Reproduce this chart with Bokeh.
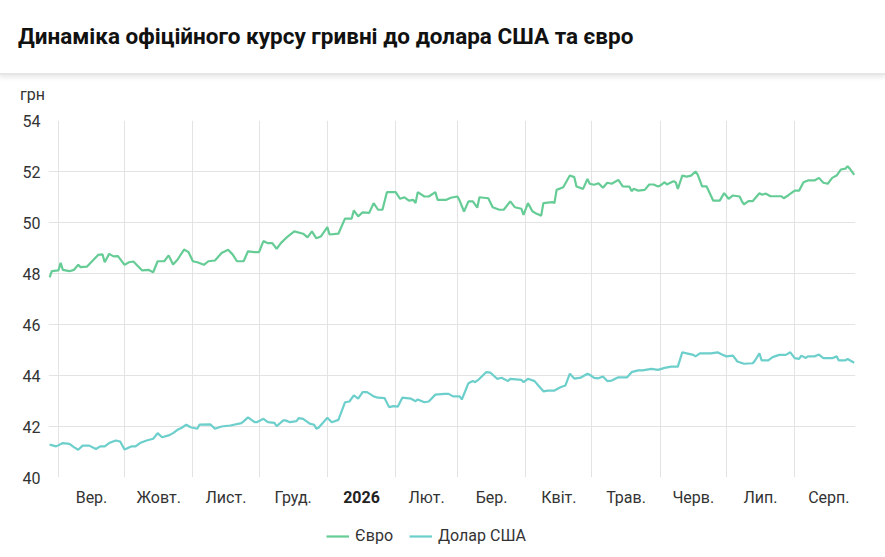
import pandas as pd
from bokeh.plotting import figure
from bokeh.layouts import column
from bokeh.models import (
    DatetimeAxis,
    Div,
    FixedTicker,
    Legend,
    LegendItem,
    Range1d,
)
from bokeh.embed import file_html
from bokeh.resources import INLINE

TITLE = "Динаміка офіційного курсу гривні до долара США та євро"
UNIT = "грн"
FONT = "Roboto"
EUR_COLOUR = "#66cc96"
USD_COLOUR = "#6ccfcb"
GRID_COLOUR = "#e3e3e3"
TEXT_COLOUR = "#333333"

month_starts = [
    "2025-09-01", "2025-10-01", "2025-11-01", "2025-12-01", "2026-01-01",
    "2026-02-01", "2026-03-01", "2026-04-01", "2026-05-01", "2026-06-01",
    "2026-07-01", "2026-08-01", "2026-09-01",
]
month_labels = [
    "Вер.", "Жовт.", "Лист.", "Груд.", "2026", "Лют.",
    "Бер.", "Квіт.", "Трав.", "Черв.", "Лип.", "Серп.",
]
y_ticks = [40, 42, 44, 46, 48, 50, 52, 54]

eur_dates = [
    "2025-08-28", "2025-08-29", "2025-09-01", "2025-09-02", "2025-09-03",
    "2025-09-06", "2025-09-08", "2025-09-10", "2025-09-11", "2025-09-14",
    "2025-09-19", "2025-09-21", "2025-09-22", "2025-09-24", "2025-09-26",
    "2025-09-28", "2025-10-01", "2025-10-03", "2025-10-05", "2025-10-09",
    "2025-10-12", "2025-10-14", "2025-10-16", "2025-10-19", "2025-10-21",
    "2025-10-23", "2025-10-25", "2025-10-28", "2025-10-30", "2025-11-01",
    "2025-11-03", "2025-11-06", "2025-11-08", "2025-11-11", "2025-11-14",
    "2025-11-17", "2025-11-19", "2025-11-21", "2025-11-24", "2025-11-26",
    "2025-11-29", "2025-12-01", "2025-12-03", "2025-12-05", "2025-12-07",
    "2025-12-09", "2025-12-11", "2025-12-14", "2025-12-17", "2025-12-21",
    "2025-12-23", "2025-12-25", "2025-12-27", "2025-12-29", "2026-01-01",
    "2026-01-02", "2026-01-06", "2026-01-09", "2026-01-12", "2026-01-13",
    "2026-01-15", "2026-01-17", "2026-01-20", "2026-01-22", "2026-01-24",
    "2026-01-26", "2026-01-28", "2026-02-01", "2026-02-03", "2026-02-05",
    "2026-02-07", "2026-02-09", "2026-02-10", "2026-02-11", "2026-02-14",
    "2026-02-16", "2026-02-19", "2026-02-20", "2026-02-24", "2026-02-26",
    "2026-03-01", "2026-03-02", "2026-03-04", "2026-03-06", "2026-03-08",
    "2026-03-10", "2026-03-11", "2026-03-15", "2026-03-17", "2026-03-20",
    "2026-03-22", "2026-03-25", "2026-03-27", "2026-03-30", "2026-03-31",
    "2026-04-02", "2026-04-04", "2026-04-06", "2026-04-08", "2026-04-09",
    "2026-04-13", "2026-04-14", "2026-04-15", "2026-04-18", "2026-04-21",
    "2026-04-23", "2026-04-24", "2026-04-27", "2026-04-29", "2026-04-30",
    "2026-05-02", "2026-05-04", "2026-05-06", "2026-05-08", "2026-05-10",
    "2026-05-13", "2026-05-15", "2026-05-18", "2026-05-19", "2026-05-20",
    "2026-05-22", "2026-05-25", "2026-05-27", "2026-05-29", "2026-05-31",
    "2026-06-01", "2026-06-03", "2026-06-04", "2026-06-07", "2026-06-08",
    "2026-06-09", "2026-06-11", "2026-06-13", "2026-06-15", "2026-06-17",
    "2026-06-18", "2026-06-20", "2026-06-22", "2026-06-25", "2026-06-28",
    "2026-06-30", "2026-07-02", "2026-07-04", "2026-07-07", "2026-07-08",
    "2026-07-09", "2026-07-11", "2026-07-13", "2026-07-16", "2026-07-17",
    "2026-07-19", "2026-07-21", "2026-07-26", "2026-07-27", "2026-07-29",
    "2026-08-01", "2026-08-03", "2026-08-05", "2026-08-07", "2026-08-10",
    "2026-08-12", "2026-08-14", "2026-08-16", "2026-08-18", "2026-08-20",
    "2026-08-22", "2026-08-24", "2026-08-25", "2026-08-26", "2026-08-28",
]
eur_rates = [
    47.85, 48.09, 48.12, 48.42, 48.14,
    48.09, 48.14, 48.34, 48.25, 48.27,
    48.73, 48.75, 48.44, 48.77, 48.67,
    48.68, 48.34, 48.44, 48.47, 48.12,
    48.14, 48.05, 48.48, 48.48, 48.71,
    48.35, 48.54, 48.94, 48.84, 48.48,
    48.44, 48.34, 48.48, 48.51, 48.80,
    48.93, 48.75, 48.48, 48.48, 48.87,
    48.84, 48.84, 49.27, 49.19, 49.19,
    48.97, 49.20, 49.45, 49.65, 49.56,
    49.42, 49.65, 49.38, 49.45, 49.82,
    49.53, 49.56, 50.15, 50.15, 50.47,
    50.24, 50.40, 50.38, 50.76, 50.50,
    50.50, 51.19, 51.19, 50.93, 50.99,
    50.86, 50.89, 50.76, 51.19, 51.02,
    51.02, 51.19, 50.89, 50.89, 50.97,
    51.02, 50.86, 50.43, 50.83, 50.83,
    50.58, 50.99, 50.95, 50.60, 50.50,
    50.50, 50.83, 50.60, 50.54, 50.30,
    50.76, 50.44, 50.34, 50.27, 50.76,
    50.80, 50.76, 51.28, 51.38, 51.84,
    51.78, 51.41, 51.32, 51.71, 51.52,
    51.48, 51.54, 51.36, 51.56, 51.52,
    51.67, 51.42, 51.41, 51.23, 51.32,
    51.25, 51.28, 51.49, 51.49, 51.41,
    51.45, 51.58, 51.49, 51.62, 51.58,
    51.32, 51.84, 51.80, 51.84, 52.00,
    51.88, 51.42, 51.42, 50.86, 50.86,
    51.15, 50.93, 51.06, 51.02, 50.84,
    50.71, 50.84, 50.84, 51.15, 51.09,
    51.13, 51.03, 51.03, 50.95, 51.06,
    51.25, 51.25, 51.58, 51.65, 51.65,
    51.75, 51.56, 51.52, 51.75, 51.84,
    52.08, 52.11, 52.21, 52.11, 51.87,
]

usd_dates = [
    "2025-08-28", "2025-08-31", "2025-09-03", "2025-09-06", "2025-09-08",
    "2025-09-10", "2025-09-12", "2025-09-15", "2025-09-18", "2025-09-20",
    "2025-09-22", "2025-09-24", "2025-09-27", "2025-09-29", "2025-10-01",
    "2025-10-04", "2025-10-06", "2025-10-08", "2025-10-11", "2025-10-14",
    "2025-10-16", "2025-10-18", "2025-10-21", "2025-10-23", "2025-10-25",
    "2025-10-27", "2025-10-29", "2025-10-31", "2025-11-03", "2025-11-04",
    "2025-11-09", "2025-11-11", "2025-11-14", "2025-11-18", "2025-11-23",
    "2025-11-24", "2025-11-26", "2025-11-29", "2025-11-30", "2025-12-03",
    "2025-12-05", "2025-12-08", "2025-12-09", "2025-12-12", "2025-12-13",
    "2025-12-15", "2025-12-18", "2025-12-19", "2025-12-21", "2025-12-24",
    "2025-12-26", "2025-12-27", "2025-12-28", "2026-01-01", "2026-01-03",
    "2026-01-06", "2026-01-09", "2026-01-11", "2026-01-13", "2026-01-15",
    "2026-01-17", "2026-01-19", "2026-01-22", "2026-01-24", "2026-01-27",
    "2026-01-29", "2026-01-31", "2026-02-02", "2026-02-04", "2026-02-08",
    "2026-02-10", "2026-02-11", "2026-02-14", "2026-02-16", "2026-02-19",
    "2026-02-23", "2026-02-25", "2026-02-27", "2026-03-02", "2026-03-03",
    "2026-03-06", "2026-03-08", "2026-03-09", "2026-03-11", "2026-03-14",
    "2026-03-16", "2026-03-19", "2026-03-21", "2026-03-24", "2026-03-25",
    "2026-03-30", "2026-03-31", "2026-04-02", "2026-04-05", "2026-04-07",
    "2026-04-09", "2026-04-11", "2026-04-14", "2026-04-17", "2026-04-19",
    "2026-04-21", "2026-04-23", "2026-04-26", "2026-04-29", "2026-04-30",
    "2026-05-02", "2026-05-04", "2026-05-06", "2026-05-08", "2026-05-10",
    "2026-05-13", "2026-05-17", "2026-05-19", "2026-05-22", "2026-05-24",
    "2026-05-28", "2026-05-31", "2026-06-03", "2026-06-06", "2026-06-09",
    "2026-06-11", "2026-06-13", "2026-06-16", "2026-06-17", "2026-06-19",
    "2026-06-24", "2026-06-27", "2026-06-29", "2026-07-01", "2026-07-04",
    "2026-07-06", "2026-07-09", "2026-07-13", "2026-07-14", "2026-07-16",
    "2026-07-17", "2026-07-20", "2026-07-22", "2026-07-25", "2026-07-28",
    "2026-07-30", "2026-08-01", "2026-08-03", "2026-08-04", "2026-08-06",
    "2026-08-07", "2026-08-10", "2026-08-12", "2026-08-14", "2026-08-18",
    "2026-08-20", "2026-08-21", "2026-08-24", "2026-08-25", "2026-08-28",
]
usd_rates = [
    41.29, 41.22, 41.35, 41.32, 41.19,
    41.09, 41.25, 41.25, 41.12, 41.22,
    41.22, 41.35, 41.45, 41.41, 41.10,
    41.22, 41.22, 41.35, 41.45, 41.52,
    41.74, 41.58, 41.65, 41.74, 41.87,
    41.95, 42.07, 41.97, 41.91, 42.07,
    42.08, 41.91, 42.00, 42.04, 42.13,
    42.20, 42.36, 42.17, 42.17, 42.30,
    42.17, 42.14, 42.01, 42.24, 42.24,
    42.17, 42.21, 42.33, 42.30, 42.11,
    42.07, 41.91, 41.95, 42.34, 42.17,
    42.26, 42.95, 42.98, 43.22, 43.09,
    43.35, 43.35, 43.18, 43.13, 43.11,
    42.76, 42.80, 42.78, 43.13, 43.09,
    42.99, 43.06, 42.95, 42.98, 43.25,
    43.28, 43.28, 43.18, 43.18, 43.06,
    43.70, 43.78, 43.74, 43.87, 44.13,
    44.11, 43.87, 43.91, 43.78, 43.87,
    43.83, 43.74, 43.87, 43.78, 43.58,
    43.38, 43.41, 43.41, 43.55, 43.61,
    44.07, 43.88, 43.92, 44.07, 44.03,
    43.91, 43.89, 43.96, 43.78, 43.80,
    43.93, 43.93, 44.13, 44.20, 44.20,
    44.26, 44.22, 44.30, 44.35, 44.35,
    44.91, 44.87, 44.81, 44.75, 44.87,
    44.87, 44.91, 44.82, 44.75, 44.78,
    44.55, 44.46, 44.48, 44.59, 44.87,
    44.59, 44.59, 44.72, 44.81, 44.81,
    44.91, 44.68, 44.65, 44.78, 44.69,
    44.75, 44.75, 44.82, 44.68, 44.68,
    44.75, 44.59, 44.59, 44.65, 44.50,
]


starts = pd.to_datetime(month_starts)
mids = [a + (b - a) / 2 for a, b in zip(starts[:-1], starts[1:])]


def ms(ts):
    return float(ts.value // 10**6)


header = Div(
    text=(
        '<div style="font-size:22.5px;font-weight:bold;color:#111111;'
        "line-height:24px;padding:24px 0 0 18px;height:75px;box-sizing:border-box;"
        "border-bottom:2px solid #e6e6e6;box-shadow:0 3px 4px rgba(0,0,0,0.08);"
        'width:885px">' + TITLE + "</div>"
        '<div style="font-size:16px;color:#333333;line-height:18px;'
        'padding:11px 0 0 20px">' + UNIT + "</div>"
    ),
    width=885,
    height=110,
    margin=0,
    styles={"font-family": FONT},
)

p = figure(
    width=885,
    height=407,
    x_axis_type="datetime",
    x_range=Range1d(pd.Timestamp("2025-08-27 12:00"), pd.Timestamp("2026-08-28 14:00")),
    y_range=Range1d(40, 54),
    toolbar_location=None,
    tools="",
    output_backend="svg",
    min_border_left=48,
    min_border_right=30,
    min_border_top=10,
    min_border_bottom=40,
)
p.outline_line_color = None

p.line(pd.to_datetime(eur_dates), eur_rates, line_color=EUR_COLOUR, line_width=2.2)
p.line(pd.to_datetime(usd_dates), usd_rates, line_color=USD_COLOUR, line_width=2.2)

# month labels sit mid-month, grid lines on the 1st
jan = mids[month_labels.index("2026")]
p.xaxis.ticker = FixedTicker(ticks=[ms(m) for m in mids if m != jan])
p.xaxis.major_label_overrides = {ms(m): lab for m, lab in zip(mids, month_labels)}
p.xgrid.ticker = FixedTicker(ticks=[ms(s) for s in starts])
p.yaxis.ticker = FixedTicker(ticks=y_ticks)

# the year label is bold: a second axis pulled up over the first one
year_axis = DatetimeAxis(
    ticker=FixedTicker(ticks=[ms(jan)]),
    major_label_overrides={ms(jan): "2026"},
    major_label_text_font_style="bold",
    major_label_standoff=-19,
)
p.add_layout(year_axis, "below")

for ax in (p.xaxis[0], p.yaxis[0], year_axis):
    ax.axis_line_color = None
    ax.major_tick_line_color = None
    ax.minor_tick_line_color = None
    ax.major_tick_out = 0
    ax.minor_tick_out = 0
    ax.major_label_text_font = FONT
    ax.major_label_text_font_size = "16px"
    ax.major_label_text_color = TEXT_COLOUR
p.xaxis[0].major_label_standoff = 10
p.yaxis.major_label_standoff = 8
year_axis.major_label_text_color = "#222222"

p.xgrid.grid_line_color = GRID_COLOUR
p.ygrid.grid_line_color = GRID_COLOUR

# legend strip under the chart; the series sit outside its y range
key = figure(
    width=885,
    height=40,
    x_range=p.x_range,
    y_range=Range1d(0, 1),
    toolbar_location=None,
    tools="",
    output_backend="svg",
    min_border=0,
    x_axis_location=None,
    y_axis_location=None,
)
key.outline_line_color = None
key.grid.visible = False
k_eur = key.line(pd.to_datetime(eur_dates), eur_rates, line_color=EUR_COLOUR, line_width=2.2)
k_usd = key.line(pd.to_datetime(usd_dates), usd_rates, line_color=USD_COLOUR, line_width=2.2)

legend = Legend(
    items=[
        LegendItem(label="Євро", renderers=[k_eur]),
        LegendItem(label="Долар США", renderers=[k_usd]),
    ],
    location=(278, 12),
    orientation="horizontal",
    border_line_color=None,
    background_fill_alpha=0,
    label_text_font=FONT,
    label_text_font_size="16px",
    label_text_color=TEXT_COLOUR,
    glyph_width=23,
    glyph_height=16,
    spacing=16,
    padding=0,
    margin=0,
    label_standoff=6,
)
key.add_layout(legend)

page = column(header, p, key)
open("out.html", "w").write(file_html(page, INLINE))
